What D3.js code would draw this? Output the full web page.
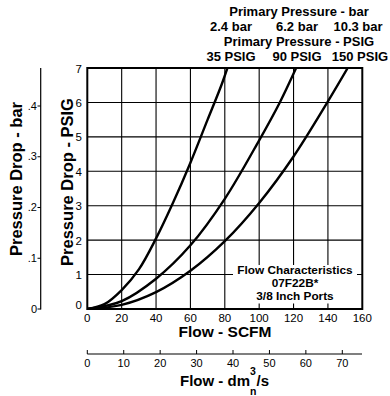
<!DOCTYPE html>
<html><head><meta charset="utf-8">
<script src="https://cdn.jsdelivr.net/npm/d3@7"></script>
<style>
html,body{margin:0;padding:0;background:#fff;}
svg{display:block;font-family:"Liberation Sans",Arial,Helvetica,sans-serif;}
</style></head>
<body><svg id="chart" width="390" height="396"></svg>
<script>
// ---- data ----
const flowTicks = [0,20,40,60,80,100,120,140,160];
const psigTicks = [0,1,2,3,4,5,6,7];
const barTicks = [0,0.1,0.2,0.3,0.4];
const barTickLabels = ["0",".1",".2",".3",".4"];
const dmTicks = [0,10,20,30,40,50,60,70];
const barLabels = ["2.4 bar","6.2 bar","10.3 bar"];
const psigLabels = ["35 PSIG","90 PSIG","150 PSIG"];
// curve 35 PSIG
const flow35 = [0,10,20,30,40,50,60,70,78,81.5];
const drop35 = [0,0.14,0.55,1.15,2.05,3.1,4.25,5.5,6.5,7.0];
// curve 90 PSIG
const flow90 = [0,20,40,60,80,100,112,121.5];
const drop90 = [0,0.23,0.88,1.85,3.2,4.9,6.0,7.0];
// curve 150 PSIG
const flow150 = [0,20,40,60,80,100,120,140,151.5];
const drop150 = [0,0.12,0.49,1.11,1.97,3.08,4.43,6.03,7.0];
const noteLines = ["Flow Characteristics","07F22B*","3/8 Inch Ports"];

const svg = d3.select("#chart");
const x = d3.scaleLinear().domain([0,160]).range([87.3,362.3]);
const y = d3.scaleLinear().domain([0,7]).range([309,68]);
const yBar = d3.scaleLinear().domain([0,0.4]).range([309,106]);
const xDm = d3.scaleLinear().domain([0,70]).range([87.3,342.3]);

// grid
const g = svg.append("g");
g.selectAll("line.v").data(flowTicks.slice(1,-1)).join("line")
  .attr("x1",d=>x(d)).attr("x2",d=>x(d)).attr("y1",y(0)).attr("y2",y(7))
  .attr("stroke","#000").attr("stroke-width",1.1);
g.selectAll("line.h").data(psigTicks.slice(1,-1)).join("line")
  .attr("x1",x(0)).attr("x2",x(160)).attr("y1",d=>y(d)).attr("y2",d=>y(d))
  .attr("stroke","#000").attr("stroke-width",1.1);

// note box (white) covering grid
svg.append("rect").attr("x",233).attr("y",265).attr("width",124).attr("height",38.5).attr("fill","#fff");
noteLines.forEach((t,i)=>svg.append("text").attr("text-anchor","middle").attr("font-weight","bold")
  .attr("font-size",11.8).attr("x",295).attr("y",274+i*13.2).text(t));

// curves
svg.append("clipPath").attr("id","clip").append("rect")
  .attr("x",x(0)).attr("y",y(7)).attr("width",x(160)-x(0)).attr("height",y(0)-y(7));
const line = d3.line().x(d=>x(d[0])).y(d=>y(d[1])).curve(d3.curveCatmullRom.alpha(0.5));
[[flow35,drop35],[flow90,drop90],[flow150,drop150]].forEach(([f,p])=>{
  svg.append("path").datum(f.map((v,i)=>[v,p[i]])).attr("d",line)
    .attr("fill","none").attr("stroke","#000").attr("stroke-width",2.4)
    .attr("clip-path","url(#clip)");
});

// frame
svg.append("rect").attr("x",x(0)).attr("y",y(7)).attr("width",x(160)-x(0)).attr("height",y(0)-y(7))
  .attr("fill","none").attr("stroke","#000").attr("stroke-width",2);

// axis labels PSIG
svg.append("g").selectAll("text").data(psigTicks).join("text")
  .attr("x",82).attr("y",d=>d===0? y(d)-0.5 : y(d)+4.5).attr("text-anchor","end")
  .attr("font-size",11.5).text(d=>d);
// x tick labels
svg.append("g").selectAll("text").data(flowTicks).join("text")
  .attr("x",d=>x(d)).attr("y",322).attr("text-anchor","middle")
  .attr("font-size",11.5).text(d=>d);

// bar axis
const gb = svg.append("g");
gb.append("line").attr("x1",40.7).attr("x2",40.7).attr("y1",68).attr("y2",309.5).attr("stroke","#000").attr("stroke-width",1.2);
gb.selectAll("line.t").data(barTicks).join("line").attr("x1",37.5).attr("x2",40.7)
  .attr("y1",d=>yBar(d)).attr("y2",d=>yBar(d)).attr("stroke","#000").attr("stroke-width",1);
gb.selectAll("text").data(barTicks).join("text").attr("x",37).attr("y",d=>yBar(d)+3.5)
  .attr("text-anchor","end").attr("font-size",11).text((d,i)=>barTickLabels[i]);

// dm axis
const gd = svg.append("g");
gd.append("line").attr("x1",87.3).attr("x2",362).attr("y1",354).attr("y2",354).attr("stroke","#000").attr("stroke-width",1.2);
gd.selectAll("line.t").data(dmTicks).join("line").attr("x1",d=>xDm(d)).attr("x2",d=>xDm(d))
  .attr("y1",350).attr("y2",354).attr("stroke","#000").attr("stroke-width",1);
gd.selectAll("text").data(dmTicks).join("text").attr("x",d=>xDm(d)).attr("y",367)
  .attr("text-anchor","middle").attr("font-size",11).text(d=>d);

// titles
const bold = (sel)=>sel.attr("font-weight","bold");
bold(svg.append("text")).attr("x",225).attr("y",337).attr("text-anchor","middle").attr("font-size",15.5).text("Flow - SCFM");
bold(svg.append("text")).attr("x",180).attr("y",386).attr("font-size",15).text("Flow - dm");
bold(svg.append("text")).attr("x",250).attr("y",375).attr("font-size",10.5).text("3");
bold(svg.append("text")).attr("x",250).attr("y",395).attr("font-size",10.5).text("n");
bold(svg.append("text")).attr("x",256.5).attr("y",386).attr("font-size",15).text("/s");

bold(svg.append("text")).attr("transform","translate(73,182) rotate(-90)").attr("text-anchor","middle").attr("font-size",16.5).text("Pressure Drop - PSIG");
bold(svg.append("text")).attr("transform","translate(22,179) rotate(-90)").attr("text-anchor","middle").attr("font-size",16.5).text("Pressure Drop - bar");

// header
bold(svg.append("text")).attr("x",299).attr("y",16).attr("text-anchor","middle").attr("font-size",13).text("Primary Pressure - bar");
bold(svg.append("text")).attr("x",299).attr("y",46).attr("text-anchor","middle").attr("font-size",13).text("Primary Pressure - PSIG");
const cx = [231,297,358];
svg.append("g").selectAll("text").data(barLabels).join("text").attr("font-weight","bold")
  .attr("x",(d,i)=>cx[i]).attr("y",31).attr("text-anchor","middle").attr("font-size",13).text(d=>d);
const cx2 = [231,297,360];
svg.append("g").selectAll("text").data(psigLabels).join("text").attr("font-weight","bold")
  .attr("x",(d,i)=>cx2[i]).attr("y",61).attr("text-anchor","middle").attr("font-size",13).text(d=>d);
</script></body></html>
